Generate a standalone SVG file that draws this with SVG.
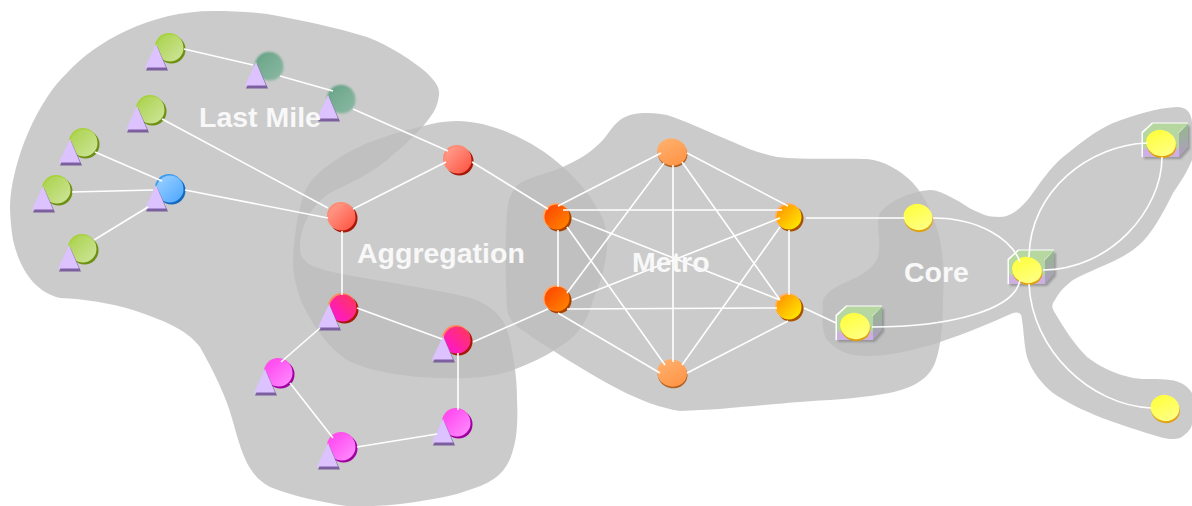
<svg xmlns="http://www.w3.org/2000/svg" width="1192" height="506" viewBox="0 0 1192 506">
<style>
.blob{fill:#bdbdbd;fill-opacity:.79;stroke:none}
.ln{fill:none;stroke:#fff;stroke-width:1.6}
.lbl{font-family:"Liberation Sans",Arial,sans-serif;font-weight:bold;font-size:28.500px;fill:#f8f8f8}
</style>
<defs>
<linearGradient id="gG" x1="0" y1="0" x2="1" y2="1"><stop offset="0" stop-color="#a9d24a"/><stop offset="1" stop-color="#cfe59c"/></linearGradient>
<linearGradient id="gT" x1="0" y1="0" x2="1" y2="1"><stop offset="0" stop-color="#69a488"/><stop offset="1" stop-color="#8cb9a4"/></linearGradient>
<linearGradient id="gB" x1="0" y1="0" x2="1" y2="1"><stop offset="0" stop-color="#9fd2ff"/><stop offset="1" stop-color="#4aa6ff"/></linearGradient>
<linearGradient id="gR" x1="0" y1="0" x2="1" y2="1"><stop offset="0" stop-color="#ffa595"/><stop offset="1" stop-color="#ff4f3c"/></linearGradient>
<linearGradient id="gMR" x1="1" y1="0" x2="0" y2="1"><stop offset="0" stop-color="#ff3a50"/><stop offset="1" stop-color="#ff10e0"/></linearGradient>
<linearGradient id="gM" x1="0" y1="0" x2="1" y2="1"><stop offset="0" stop-color="#ff40ee"/><stop offset="1" stop-color="#ff90ff"/></linearGradient>
<linearGradient id="gO" x1="0" y1="0" x2="1" y2="1"><stop offset="0" stop-color="#ff4000"/><stop offset="1" stop-color="#ff8a00"/></linearGradient>
<linearGradient id="gP" x1="0" y1="0" x2="1" y2="1"><stop offset="0" stop-color="#ffb472"/><stop offset="1" stop-color="#ff9040"/></linearGradient>
<linearGradient id="gA" x1="0" y1="0" x2="1" y2="1"><stop offset="0" stop-color="#ff8c00"/><stop offset="1" stop-color="#fff200"/></linearGradient>
<linearGradient id="gY" x1="0" y1="0" x2="1" y2="1"><stop offset="0" stop-color="#ffff30"/><stop offset="1" stop-color="#ffff90"/></linearGradient>
<linearGradient id="gF" x1="0" y1="0" x2="0" y2="1"><stop offset="0" stop-color="#b6d8a0"/><stop offset=".55" stop-color="#b6d8a0"/><stop offset=".72" stop-color="#ccb0e2"/><stop offset="1" stop-color="#ccb0e2"/></linearGradient>
<linearGradient id="gS" x1="0" y1="0" x2="0" y2="1"><stop offset="0" stop-color="#92ba88"/><stop offset="1" stop-color="#b09cc4"/></linearGradient>
<filter id="soft" x="-30%" y="-30%" width="160%" height="160%"><feGaussianBlur stdDeviation="1.300"/></filter>
<filter id="sh" x="-20%" y="-20%" width="140%" height="140%"><feGaussianBlur stdDeviation="1"/></filter>
<filter id="s2" x="-20%" y="-20%" width="140%" height="140%"><feGaussianBlur stdDeviation=".6"/></filter>
<g id="tri"><polygon points="-24,22.500 -13,-2 -2,22.500" fill="#7c5f9e" filter="url(#s2)"/><polygon points="-25,19.500 -14,-4 -4,19.500" fill="#dcc2ff"/></g>
<g id="box">
<polygon points="-17,-8 -6,-17 29,-17 29,6 20,16 -17,16" fill="#777" opacity=".6" filter="url(#sh)"/>
<polygon points="-19.500,-11 -9,-20.500 27,-20.500 27,-18 18,-10 18,14 -19.500,14" fill="#fff" filter="url(#s2)"/>
<polygon points="-18,-10 -8,-19.500 27,-19.500 17,-10" fill="#b6d8a0"/>
<polygon points="18,-10 27,-19.500 27,4 18,14" fill="url(#gS)"/>
<rect x="-18" y="-10" width="36" height="24" fill="url(#gF)"/>
</g>
</defs>
<g id="zones">
<path id="zone-last-mile" class="blob" d="M10,205 C12,160 38,100 67,73 C95,42 150,11 213,11 C232,11 250,12 267,14 C300,20 335,27 367,37 C390,46 412,60 427,73 C436,82 440,88 439,95 C438,103 436,108 433,113 C422,130 405,145 387,160 C365,178 345,185 330,193 C312,205 300,225 300,248 C300,262 310,268 347,275 C390,283 430,288 467,297 C495,305 507,320 511,345 C515,365 517,382 517,400 C518,420 517,437 513,450 C508,468 500,476 487,483 C470,491 448,497 427,500 C400,505 375,507 347,506 C320,502 293,496 270,487 C258,481 252,472 247,463 C238,445 234,422 227,403 C219,382 210,365 200,347 C190,333 170,322 133,310 C110,303 85,299 60,298 C35,292 20,270 13,240 C11,228 10,215 10,205 Z"/>
<path id="zone-aggregation" class="blob" d="M457,121 C445,121 432,123 420,127 C395,133 370,140 347,153 C322,168 308,180 303,197 C296,220 293,245 293,267 C295,285 300,300 307,313 C318,333 332,350 347,360 C370,372 410,378 447,378 C470,379 495,377 513,370 C535,362 558,350 573,337 C585,325 590,312 593,300 C600,285 606,265 607,247 C608,235 606,225 600,213 C590,195 578,180 563,167 C540,145 495,121 457,121 Z"/>
<path id="zone-metro" class="blob" d="M563,167 C578,160 590,153 600,143 C608,135 612,126 620,120 C628,114 637,113 647,113 C657,113 665,114 673,117 C693,124 713,134 733,142 C748,149 762,154 777,157 C805,160 840,158 867,159 C885,161 900,170 913,183 C928,200 936,222 940,240 C944,260 944,280 943,300 C943,325 941,345 936,360 C930,380 910,390 883,394 C855,399 825,400 800,402 C770,404 720,410 680,411 C660,408 640,400 620,390 C600,380 580,367 563,357 C550,348 535,340 527,333 C515,327 507,318 507,307 C505,275 505,245 507,213 C508,198 512,190 520,183 C535,175 550,173 563,167 Z"/>
<path id="zone-core" class="blob" d="M930,190 C908,192 888,202 880,213 C875,225 882,240 878,257 C872,272 855,278 840,285 C827,292 821,298 823,307 C822,320 822,332 827,340 C838,352 850,356 867,356 C890,356 915,350 940,342 C965,334 990,323 1013,313 C1020,311 1022,315 1022,320 C1024,332 1024,345 1027,357 C1032,372 1042,384 1053,393 C1080,412 1120,425 1160,437 C1170,440 1176,439 1180,438 C1188,433 1192,428 1192,423 L1192,393 C1188,386 1180,381 1170,380 C1158,378 1145,380 1133,378 C1115,374 1100,367 1087,357 C1075,345 1065,330 1055,313 C1051,307 1052,304 1055,300 C1060,290 1068,284 1073,280 C1090,270 1115,263 1133,250 C1150,238 1162,215 1173,193 C1182,180 1188,170 1192,160 L1192,122 C1191,112 1186,107 1177,107 C1155,108 1135,115 1113,123 C1095,131 1078,145 1063,157 C1050,168 1040,183 1030,197 C1022,207 1012,217 1000,217 C992,217 986,216 980,213 C972,210 966,206 960,202 C950,197 940,190 930,190 Z"/>
</g>
<g id="nodes">
<g id="lm1" transform="translate(170,48)"><circle cx="1.500" cy="1.500" r="14" fill="#6d8f12"/><circle cx="-1" cy="-1" r="14" fill="#a8d23c"/><circle r="13.500" fill="url(#gG)"/><use href="#tri"/></g>
<g id="lm2" transform="translate(270,67)"><g filter="url(#soft)"><circle cx="-1" cy="-1" r="14" fill="#5fa283"/><circle r="13.500" fill="url(#gT)"/></g><use href="#tri" transform="translate(0,-1)"/></g>
<g id="lm3" transform="translate(342,100)"><g filter="url(#soft)"><circle cx="-1" cy="-1" r="14" fill="#5fa283"/><circle r="13.500" fill="url(#gT)"/></g><use href="#tri" transform="translate(0,-1)"/></g>
<g id="lm4" transform="translate(151,110)"><circle cx="1.500" cy="1.500" r="14" fill="#6d8f12"/><circle cx="-1" cy="-1" r="14" fill="#a8d23c"/><circle r="13.500" fill="url(#gG)"/><use href="#tri"/></g>
<g id="lm5" transform="translate(84,143)"><circle cx="1.500" cy="1.500" r="14" fill="#6d8f12"/><circle cx="-1" cy="-1" r="14" fill="#a8d23c"/><circle r="13.500" fill="url(#gG)"/><use href="#tri"/></g>
<g id="lm6" transform="translate(57,190)"><circle cx="1.500" cy="1.500" r="14" fill="#6d8f12"/><circle cx="-1" cy="-1" r="14" fill="#a8d23c"/><circle r="13.500" fill="url(#gG)"/><use href="#tri"/></g>
<g id="lm7" transform="translate(83,249)"><circle cx="1.500" cy="1.500" r="14" fill="#6d8f12"/><circle cx="-1" cy="-1" r="14" fill="#a8d23c"/><circle r="13.500" fill="url(#gG)"/><use href="#tri"/></g>
<g id="lm-hub" transform="translate(170,189)"><circle cx="1.500" cy="1.500" r="14" fill="#1468c0"/><circle cx="-1" cy="-1" r="14" fill="#3a9cf0"/><circle r="13.500" fill="url(#gB)"/><use href="#tri"/></g>
<g id="ag1" transform="translate(342,217)"><circle cx="1.500" cy="1.500" r="14" fill="#a81808"/><circle cx="-1" cy="-1" r="14" fill="#ff8a70"/><circle r="13.500" fill="url(#gR)"/></g>
<g id="ag2" transform="translate(458,160)"><circle cx="1.500" cy="1.500" r="14" fill="#a81808"/><circle cx="-1" cy="-1" r="14" fill="#ff8a70"/><circle r="13.500" fill="url(#gR)"/></g>
<g id="ag3" transform="translate(343,308)"><circle cx="1.500" cy="1.500" r="14" fill="#a81808"/><circle cx="-1" cy="-1" r="14" fill="#ff8a60"/><circle r="13.500" fill="url(#gMR)"/><use href="#tri"/></g>
<g id="ag4" transform="translate(457,340)"><circle cx="1.500" cy="1.500" r="14" fill="#a81808"/><circle cx="-1" cy="-1" r="14" fill="#ff8a60"/><circle r="13.500" fill="url(#gMR)"/><use href="#tri"/></g>
<g id="ag5" transform="translate(279,373)"><circle cx="1.500" cy="1.500" r="14" fill="#a000a0"/><circle cx="-1" cy="-1" r="14" fill="#ff50e8"/><circle r="13.500" fill="url(#gM)"/><use href="#tri"/></g>
<g id="ag6" transform="translate(342,447)"><circle cx="1.500" cy="1.500" r="14" fill="#a000a0"/><circle cx="-1" cy="-1" r="14" fill="#ff50e8"/><circle r="13.500" fill="url(#gM)"/><use href="#tri"/></g>
<g id="ag7" transform="translate(457,423)"><circle cx="1.500" cy="1.500" r="14" fill="#a000a0"/><circle cx="-1" cy="-1" r="14" fill="#ff50e8"/><circle r="13.500" fill="url(#gM)"/><use href="#tri"/></g>
<g id="me1" transform="translate(557,217)"><circle cx="1.500" cy="1.500" r="13" fill="#a84000"/><circle cx="-1" cy="-1" r="13" fill="#ffa868"/><circle r="12.500" fill="url(#gO)"/></g>
<g id="me2" transform="translate(557,299)"><circle cx="1.500" cy="1.500" r="13" fill="#a84000"/><circle cx="-1" cy="-1" r="13" fill="#ffa868"/><circle r="12.500" fill="url(#gO)"/></g>
<g id="me3" transform="translate(672,152)"><g transform="rotate(15)"><ellipse cx="1" cy="1.500" rx="15" ry="13.500" fill="#b06020"/><ellipse rx="15" ry="13.500" fill="url(#gP)"/></g></g>
<g id="me4" transform="translate(672,373)"><g transform="rotate(15)"><ellipse cx="1" cy="1.500" rx="15" ry="13.500" fill="#b06020"/><ellipse rx="15" ry="13.500" fill="url(#gP)"/></g></g>
<g id="me5" transform="translate(789,217)"><circle cx="1.500" cy="1.500" r="13" fill="#a85000"/><circle cx="-1" cy="-1" r="13" fill="#ffb070"/><circle r="12.500" fill="url(#gA)"/></g>
<g id="me6" transform="translate(789,307)"><circle cx="1.500" cy="1.500" r="13" fill="#a85000"/><circle cx="-1" cy="-1" r="13" fill="#ffb070"/><circle r="12.500" fill="url(#gA)"/></g>
<g id="co1" transform="translate(918,217)"><g transform="rotate(15)"><ellipse cx="1" cy="1.800" rx="14.500" ry="13" fill="#e0a010"/><ellipse rx="14.500" ry="13" fill="url(#gY)"/></g></g>
<g id="co2" transform="translate(855,326)"><use href="#box"/><g transform="rotate(15)"><ellipse cx="1" cy="1.800" rx="15" ry="13" fill="#e0a010"/><ellipse rx="15" ry="13" fill="url(#gY)"/></g></g>
<g id="co3" transform="translate(1027,270)"><use href="#box"/><g transform="rotate(15)"><ellipse cx="1" cy="1.800" rx="15" ry="13" fill="#e0a010"/><ellipse rx="15" ry="13" fill="url(#gY)"/></g></g>
<g id="co4" transform="translate(1161,143)"><use href="#box"/><g transform="rotate(15)"><ellipse cx="1" cy="1.800" rx="15" ry="13" fill="#e0a010"/><ellipse rx="15" ry="13" fill="url(#gY)"/></g></g>
<g id="co5" transform="translate(1165,408)"><g transform="rotate(15)"><ellipse cx="1" cy="1.800" rx="14.500" ry="13" fill="#e0a010"/><ellipse rx="14.500" ry="13" fill="url(#gY)"/></g></g>
</g>
<g id="connectors" class="ln">
<path d="M184,49L253,65M280,76L333,91M353,109L448,151M162,119L328,208M95,152L162,181M72,192L153,190M94,240L148,207M185,190L328,218"/>
<path d="M353,209L446,162M342,231V295M472,162L548,209M357,308L442,339M320,328L281,362M290,383L333,438M357,447L437,434M458,410V353M473,342L548,309"/>
<path d="M558,206L661,153M563,210H782M558,230V287M572,218L780,300M567,227L665,365M567,293L664,163M572,300L780,218M567,309L777,308M558,313L660,373M673,165V362M687,153L788,206M682,162L780,300M682,365L780,227M687,373L788,321M789,230V295M806,218H905M804,308L836,323"/>
<path d="M933,218C980,218 1012,240 1020,262M872,327C950,327 1015,310 1020,280M1029,257C1030,190 1090,145 1147,143M1043,270C1110,270 1162,210 1162,157M1029,284C1032,350 1090,405 1151,408"/>
</g>
<g id="labels">
<text class="lbl" x="199" y="127">Last Mile</text>
<text class="lbl" x="357" y="263">Aggregation</text>
<text class="lbl" x="632" y="272">Metro</text>
<text class="lbl" x="904" y="282">Core</text>
</g>
</svg>
